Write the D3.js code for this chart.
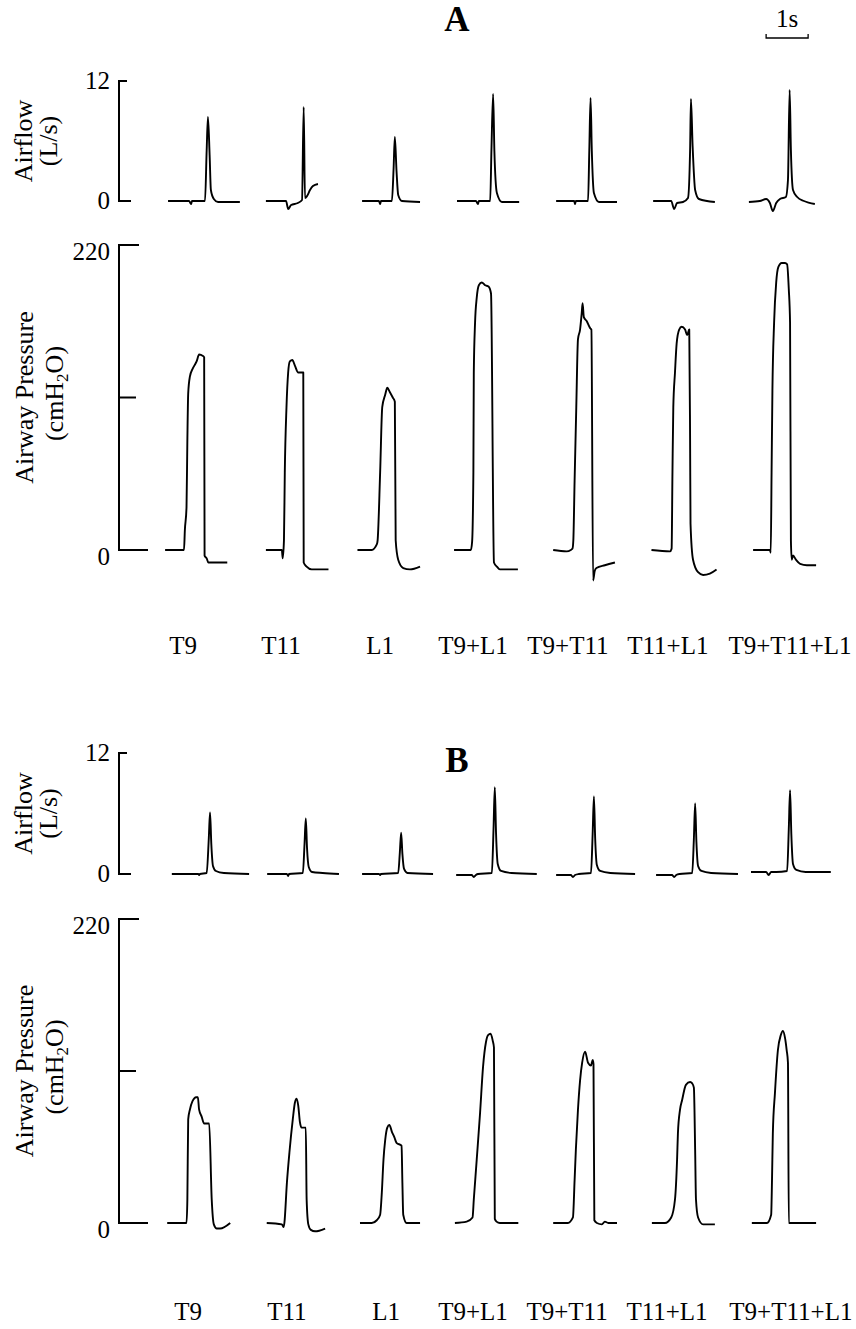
<!DOCTYPE html>
<html>
<head>
<meta charset="utf-8">
<script src="https://cdn.jsdelivr.net/npm/d3@7"></script>
<style>
  body { margin: 0; background: #fff; }
  svg text { font-family: "Liberation Serif", "Times New Roman", serif; fill: #000; }
</style>
</head>
<body>
<div id="chart"></div>
<script>
// ------ Data (time in s, airflow in L/s, pressure in cmH2O) ------ //

const conditions = ["T9", "T11", "L1", "T9+L1", "T9+T11", "T11+L1", "T9+T11+L1"];

const airflowTicks = [0, 12];
const pressureTicks = [0, 110, 220];
const pressureTickLabels = [0, 220];

// Panel A, airflow traces
const airflowA = [
  [[1.12,0],[1.62,0],[1.67,-0.3],[1.69,0],[2.0,0],[2.04,5.1],[2.07,8.4],[2.11,4.6],[2.14,1.1],[2.21,0.2],[2.31,-0.1],[2.83,-0.1]],
  [[3.45,0],[3.93,0],[3.98,-0.8],[4.05,-0.4],[4.21,-0.2],[4.31,0.1],[4.35,9.4],[4.38,0.3],[4.43,0.5],[4.50,1.1],[4.57,1.5],[4.69,1.7]],
  [[5.74,0],[6.14,0],[6.17,-0.3],[6.19,0],[6.45,0],[6.49,3.2],[6.52,6.4],[6.56,3.0],[6.60,0.6],[6.69,0],[7.12,-0.1]],
  [[8.00,0],[8.45,0],[8.50,-0.3],[8.52,0],[8.79,0],[8.82,5.1],[8.86,10.7],[8.89,5.0],[8.95,0.8],[9.07,-0.1],[9.48,-0.1]],
  [[10.36,0],[10.79,0],[10.81,-0.3],[10.83,0],[11.12,0],[11.15,5.1],[11.18,10.3],[11.21,5.0],[11.26,0.8],[11.38,-0.1],[11.81,-0.1]],
  [[12.67,0],[13.10,0],[13.17,-0.8],[13.24,-0.2],[13.38,-0.1],[13.50,0.3],[13.55,5.1],[13.57,10.2],[13.61,5.5],[13.67,1.1],[13.76,0.2],[14.14,-0.1]],
  [[14.95,-0.1],[15.21,0],[15.36,0.2],[15.45,-0.2],[15.52,-1.0],[15.60,-0.2],[15.69,0.2],[15.83,0.4],[15.88,2.1],[15.92,11.1],[15.95,5.1],[16.00,1.1],[16.10,0.4],[16.26,0],[16.52,-0.3]]
];

// Panel A, airway pressure traces
const pressureA = [
  [[1.05,0],[1.50,0],[1.52,14],[1.56,31],[1.58,79],[1.60,113],[1.64,125],[1.71,131],[1.80,136],[1.86,141],[1.95,140],[1.98,139],[1.99,-4],[2.04,-6],[2.08,-9],[2.53,-9]],
  [[3.45,0],[3.83,0],[3.85,-6],[3.88,7],[3.90,56],[3.94,103],[3.98,128],[4.02,136],[4.08,137],[4.14,133],[4.22,128],[4.34,128],[4.35,-9],[4.42,-12],[4.54,-14],[4.94,-14]],
  [[5.63,0],[5.97,0],[6.09,4],[6.11,7],[6.17,56],[6.22,103],[6.29,112],[6.34,117],[6.40,114],[6.47,110],[6.52,107],[6.54,7],[6.60,-7],[6.72,-13],[6.88,-14],[7.12,-12]],
  [[7.93,0],[8.33,0],[8.36,6],[8.39,56],[8.40,128],[8.43,164],[8.47,182],[8.52,191],[8.59,193],[8.67,191],[8.75,190],[8.81,185],[8.88,-9],[8.95,-12],[9.02,-14],[9.45,-14]],
  [[10.29,0],[10.61,-1],[10.71,0],[10.75,1],[10.77,7],[10.80,50],[10.84,103],[10.88,152],[10.93,159],[10.97,171],[10.99,178],[11.02,168],[11.09,165],[11.17,160],[11.20,159],[11.24,-22],[11.28,-15],[11.32,-13],[11.52,-11],[11.76,-9]],
  [[12.63,0],[13.07,-1],[13.11,1],[13.13,56],[13.15,103],[13.19,128],[13.23,149],[13.29,159],[13.35,161],[13.43,159],[13.48,155],[13.53,159],[13.55,79],[13.56,19],[13.62,-7],[13.74,-16],[13.86,-18],[14.02,-17],[14.18,-14]],
  [[15.05,0],[15.45,0],[15.47,-2],[15.49,56],[15.51,115],[15.55,164],[15.60,193],[15.65,204],[15.73,207],[15.81,207],[15.86,206],[15.90,188],[15.93,164],[15.95,7],[15.97,-7],[16.00,-4],[16.07,-7],[16.17,-10],[16.33,-11],[16.55,-11]]
];

// Panel B, airflow traces
const airflowB = [
  [[1.21,0],[1.84,0],[1.86,-0.1],[1.88,0],[2.04,0.1],[2.09,3.5],[2.12,6.1],[2.15,3.0],[2.19,0.8],[2.26,0.3],[2.45,0.1],[3.05,0]],
  [[3.48,0],[3.95,0],[3.98,-0.2],[4.00,0],[4.33,0.1],[4.37,3.0],[4.40,5.5],[4.43,2.5],[4.47,0.7],[4.55,0.2],[4.80,0.1],[5.19,0]],
  [[5.74,0],[6.14,0],[6.17,-0.1],[6.19,0],[6.60,0.1],[6.64,2.2],[6.67,4.1],[6.70,2.0],[6.74,0.5],[6.82,0.1],[7.43,0]],
  [[7.98,-0.1],[8.35,-0.1],[8.40,-0.3],[8.45,-0.1],[8.50,0],[8.83,0.1],[8.87,4.5],[8.90,8.6],[8.93,4.0],[8.97,1.0],[9.05,0.3],[9.30,0.1],[9.90,0]],
  [[10.36,-0.1],[10.71,-0.1],[10.76,-0.3],[10.81,-0.1],[10.90,0],[11.19,0.1],[11.23,4.0],[11.26,7.7],[11.29,3.5],[11.33,0.9],[11.41,0.3],[11.65,0.1],[12.24,0]],
  [[12.74,-0.1],[13.12,-0.1],[13.17,-0.3],[13.22,-0.1],[13.30,0],[13.60,0.1],[13.64,3.5],[13.67,7.0],[13.70,3.2],[13.74,0.8],[13.82,0.3],[14.05,0.1],[14.69,0]],
  [[15.00,0.2],[15.36,0.2],[15.42,-0.1],[15.48,0.2],[15.60,0.2],[15.86,0.3],[15.90,4.5],[15.93,8.3],[15.96,4.0],[16.00,1.0],[16.08,0.4],[16.30,0.2],[16.90,0.2]]
];

// Panel B, airway pressure traces
const pressureB = [
  [[1.10,0],[1.56,0],[1.58,17],[1.60,75],[1.64,82],[1.70,88],[1.79,91],[1.83,91],[1.86,82],[1.92,77],[1.98,72],[2.10,72],[2.16,17],[2.21,-1],[2.28,-4],[2.36,-4],[2.60,0]],
  [[3.47,0],[3.83,-1],[3.87,-3],[3.89,0],[3.95,29],[4.01,51],[4.09,75],[4.14,87],[4.18,90],[4.22,85],[4.26,73],[4.30,69],[4.40,69],[4.42,17],[4.46,-1],[4.52,-5],[4.62,-6],[4.86,-4]],
  [[5.69,0],[5.97,0],[6.09,2],[6.17,6],[6.21,22],[6.25,46],[6.29,60],[6.34,69],[6.39,71],[6.45,66],[6.51,62],[6.56,58],[6.68,56],[6.70,29],[6.72,6],[6.80,0],[7.12,0]],
  [[7.95,0],[8.23,1],[8.37,4],[8.40,17],[8.47,46],[8.55,80],[8.62,113],[8.69,131],[8.74,136],[8.80,137],[8.85,132],[8.88,127],[8.90,3],[8.94,1],[9.02,0],[9.46,0]],
  [[10.29,0],[10.64,0],[10.76,4],[10.80,31],[10.83,53],[10.88,82],[10.93,103],[10.98,116],[11.05,124],[11.12,116],[11.19,114],[11.23,118],[11.25,115],[11.27,2],[11.33,0],[11.45,-1],[11.52,1],[11.60,0],[11.81,0]],
  [[12.64,0],[12.95,0],[13.10,4],[13.19,17],[13.24,46],[13.26,65],[13.31,82],[13.36,89],[13.45,100],[13.55,102],[13.60,101],[13.64,98],[13.67,53],[13.69,17],[13.74,4],[13.86,-1],[14.14,-1]],
  [[15.02,0],[15.38,0],[15.48,6],[15.50,31],[15.52,65],[15.57,94],[15.64,125],[15.71,136],[15.76,139],[15.81,134],[15.85,125],[15.88,116],[15.90,0],[16.55,0]]
];

// Where each condition label sits on the time axis
const labelTimesA = [1.48, 3.81, 6.17, 8.38, 10.64, 13.02, 15.93];
const labelTimesB = [1.60, 3.95, 6.31, 8.38, 10.62, 13.00, 15.95];


const drawChart = () => {

  // ------ Create the drawing area ------- //

  const width = 856;
  const height = 1329;
  const svg = d3.select("#chart")
    .append("svg")
      .attr("width", width)
      .attr("height", height)
      .attr("viewBox", [0, 0, width, height]);

  svg.append("rect")
    .attr("width", width)
    .attr("height", height)
    .attr("fill", "#fff");

  // shared time axis: 1 s = 42 px
  const x = d3.scaleLinear()
    .domain([0, 17])
    .range([121, 121 + 17 * 42]);
  const axisX = 119;

  // ------ 1 s scale bar ------- //
  const barY = 38;
  svg.append("path")
    .attr("d", `M${x(15.36)},${barY - 4}V${barY}H${x(16.36)}V${barY - 4}`)
    .attr("fill", "none")
    .attr("stroke", "#000")
    .attr("stroke-width", 1.3);
  svg.append("text")
    .attr("x", x(15.86))
    .attr("y", 27)
    .attr("text-anchor", "middle")
    .attr("font-size", 25)
    .text("1s");

  const panels = [
    { title: "A", titleY: 31, flow: airflowA, pressure: pressureA,
      flowRange: [201, 81], pressRange: [550, 245], labelY: 654, labelTimes: labelTimesA },
    { title: "B", titleY: 772, flow: airflowB, pressure: pressureB,
      flowRange: [874, 753], pressRange: [1223, 919], labelY: 1320, labelTimes: labelTimesB }
  ];

  panels.forEach(p => {
    const g = svg.append("g");

    // panel letter
    g.append("text")
      .attr("x", 457)
      .attr("y", p.titleY)
      .attr("text-anchor", "middle")
      .attr("font-size", 35)
      .attr("font-weight", "bold")
      .text(p.title);

    const yFlow = d3.scaleLinear().domain([0, 12]).range(p.flowRange);
    const yPress = d3.scaleLinear().domain([0, 220]).range(p.pressRange);

    // ------ Airflow axis ------- //
    const flowTickLen = [12, 8];
    g.append("line")
      .attr("x1", axisX).attr("x2", axisX)
      .attr("y1", yFlow(0)).attr("y2", yFlow(12))
      .attr("stroke", "#000").attr("stroke-width", 2);
    airflowTicks.forEach((t, i) => {
      g.append("line")
        .attr("x1", axisX - 1).attr("x2", axisX + flowTickLen[i])
        .attr("y1", yFlow(t)).attr("y2", yFlow(t))
        .attr("stroke", "#000").attr("stroke-width", 2);
      g.append("text")
        .attr("x", 110)
        .attr("y", yFlow(t) + 2)
        .attr("text-anchor", "end")
        .attr("dominant-baseline", "middle")
        .attr("font-size", 25)
        .text(t);
    });

    // ------ Pressure axis ------- //
    const pressTickLen = [29, 17, 20];
    g.append("line")
      .attr("x1", axisX).attr("x2", axisX)
      .attr("y1", yPress(0)).attr("y2", yPress(220))
      .attr("stroke", "#000").attr("stroke-width", 2);
    pressureTicks.forEach((t, i) => {
      g.append("line")
        .attr("x1", axisX - 1).attr("x2", axisX + pressTickLen[i])
        .attr("y1", yPress(t)).attr("y2", yPress(t))
        .attr("stroke", "#000").attr("stroke-width", 2);
    });
    pressureTickLabels.forEach(t => {
      g.append("text")
        .attr("x", 110)
        .attr("y", yPress(t) + 9)
        .attr("text-anchor", "end")
        .attr("dominant-baseline", "middle")
        .attr("font-size", 25)
        .text(t);
    });

    // ------ Axis titles (rotated) ------- //
    const flowMid = (p.flowRange[0] + p.flowRange[1]) / 2;
    const pressMid = (p.pressRange[0] + p.pressRange[1]) / 2;

    g.append("text")
      .attr("transform", `translate(32, ${flowMid}) rotate(-90)`)
      .attr("text-anchor", "middle")
      .attr("font-size", 26)
      .text("Airflow");
    g.append("text")
      .attr("transform", `translate(57, ${flowMid}) rotate(-90)`)
      .attr("text-anchor", "middle")
      .attr("font-size", 26)
      .text("(L/s)");

    g.append("text")
      .attr("transform", `translate(33, ${pressMid}) rotate(-90)`)
      .attr("text-anchor", "middle")
      .attr("font-size", 26)
      .text("Airway Pressure");
    const unit = g.append("text")
      .attr("transform", `translate(63, ${pressMid - 4}) rotate(-90)`)
      .attr("text-anchor", "middle")
      .attr("font-size", 26);
    unit.append("tspan").text("(cmH");
    unit.append("tspan").attr("font-size", 17).attr("dy", 5).text("2");
    unit.append("tspan").attr("dy", -5).text("O)");

    // ------ Traces ------- //
    const flowLine = d3.line()
      .x(d => x(d[0]))
      .y(d => yFlow(d[1]))
      .curve(d3.curveMonotoneX);
    const pressLine = d3.line()
      .x(d => x(d[0]))
      .y(d => yPress(d[1]))
      .curve(d3.curveMonotoneX);

    g.selectAll(".flow")
      .data(p.flow)
      .join("path")
        .attr("class", "flow")
        .attr("d", flowLine)
        .attr("fill", "none")
        .attr("stroke", "#000")
        .attr("stroke-width", 1.9)
        .attr("stroke-linejoin", "round");

    g.selectAll(".press")
      .data(p.pressure)
      .join("path")
        .attr("class", "press")
        .attr("d", pressLine)
        .attr("fill", "none")
        .attr("stroke", "#000")
        .attr("stroke-width", 1.9)
        .attr("stroke-linejoin", "round");

    // ------ Condition labels ------- //
    g.selectAll(".cond")
      .data(conditions)
      .join("text")
        .attr("class", "cond")
        .attr("x", (d, i) => x(p.labelTimes[i]))
        .attr("y", p.labelY)
        .attr("text-anchor", "middle")
        .attr("font-size", 25)
        .text(d => d);
  });
};

drawChart();
</script>
</body>
</html>
